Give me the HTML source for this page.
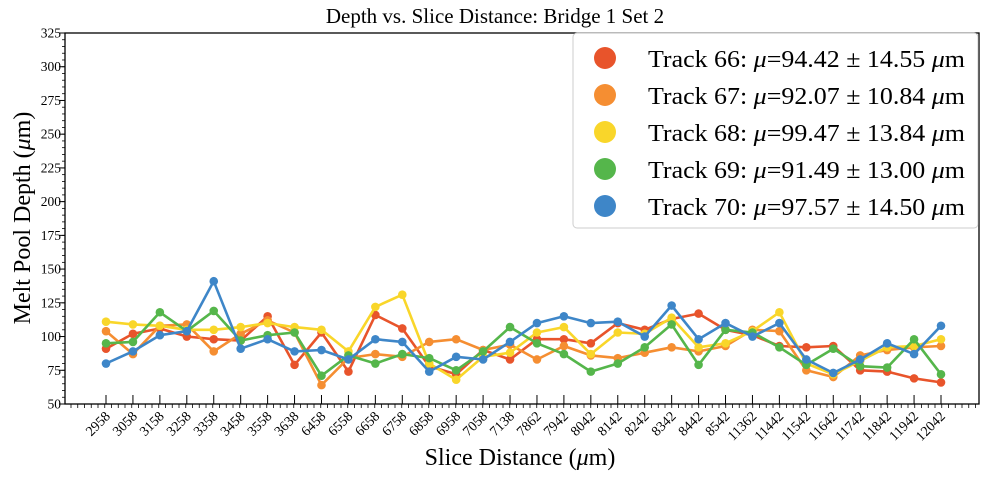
<!DOCTYPE html>
<html><head><meta charset="utf-8">
<style>
body{margin:0;background:#fff;}
svg{display:block;font-family:"Liberation Serif",serif;}
</style></head>
<body>
<svg id="chart" width="991" height="480" xmlns="http://www.w3.org/2000/svg">
<text x="495" y="23" text-anchor="middle" font-size="21">Depth vs. Slice Distance: Bridge 1 Set 2</text>
<text x="520" y="465" text-anchor="middle" font-size="24">Slice Distance (<tspan font-style="italic">μ</tspan>m)</text>
<text transform="translate(30,218) rotate(-90)" text-anchor="middle" font-size="24">Melt Pool Depth (<tspan font-style="italic">μ</tspan>m)</text>
<g id="axes"></g>
<g id="series"></g>
<g id="legend"></g>
</svg>
<script>
const categories=[2958,3058,3158,3258,3358,3458,3558,3638,6458,6558,6658,6758,6858,6958,7058,7138,7862,7942,8042,8142,8242,8342,8442,8542,11362,11442,11542,11642,11742,11842,11942,12042];
const track66=[91,102,106,100,98,97,115,79,103,74,116,106,78,72,90,83,98,98,95,110,105,113,117,105,101,93,92,93,75,74,69,66];
const track67=[104,87,108,109,89,102,112,103,64,84,87,85,96,98,90,94,83,93,86,84,88,92,89,93,105,104,75,70,86,90,92,93];
const track68=[111,109,108,105,105,107,110,107,105,89,122,131,80,68,85,88,103,107,87,103,102,114,92,95,104,118,80,72,82,92,93,98];
const track69=[95,96,118,104,119,97,101,103,71,86,80,87,84,75,89,107,95,87,74,80,92,109,79,105,103,92,79,91,78,77,98,72];
const track70=[80,89,101,104,141,91,98,89,90,83,98,96,74,85,83,96,110,115,110,111,100,123,98,110,100,110,83,73,83,95,87,108];
const seriesNames=["Track 66","Track 67","Track 68","Track 69","Track 70"];
const seriesMeans=["94.42","92.07","99.47","91.49","97.57"];
const seriesStds=["14.55","10.84","13.84","13.00","14.50"];
const yTicks=[50,75,100,125,150,175,200,225,250,275,300,325];

const NS="http://www.w3.org/2000/svg";
const L=65,R=979,T=33,B=404,yMin=50,yMax=325;
const colors=["#e8542b","#f58e32","#f9d62a","#55b64b","#3e86c8"];
const allSeries=[track66,track67,track68,track69,track70];
function xs(i){return 106+i*(941-106)/(categories.length-1);}
function ys(v){return B-(v-yMin)/(yMax-yMin)*(B-T);}
function mk(tag,attrs,parent){const e=document.createElementNS(NS,tag);for(const k in attrs)e.setAttribute(k,attrs[k]);parent.appendChild(e);return e;}
const axes=document.getElementById('axes');
const frame=mk('rect',{x:L,y:T,width:R-L,height:B-T,fill:'none',stroke:'#000','stroke-width':1.3},axes);


yTicks.forEach(v=>{
  const y=ys(v);
  mk('line',{x1:L-6,x2:L,y1:y,y2:y,stroke:'#000','stroke-width':1},axes);
  const t=mk('text',{x:L-4,y:y+4.5,'text-anchor':'end','font-size':13.5},axes);
  t.textContent=v;
  
  
});
for(let v=yMin;v<=yMax;v+=5){const y=ys(v);mk('line',{x1:L-3,x2:L,y1:y,y2:y,stroke:'#000','stroke-width':0.8},axes);}
for(let x=L+6;x<R;x+=6.75){mk('line',{x1:x,x2:x,y1:B,y2:B+4,stroke:'#000','stroke-width':0.8},axes);}
categories.forEach((c,i)=>{
  const x=xs(i);
  mk('line',{x1:x,x2:x,y1:B-9,y2:B,stroke:'#000','stroke-width':1},axes);
  const t=mk('text',{transform:`translate(${x+5},${B+13}) rotate(-45)`,'text-anchor':'end','font-size':14},axes);
  t.textContent=c;
  
  
});
const sg=document.getElementById('series');
allSeries.forEach((data,s)=>{
  const g=mk('g',{},sg);
  
  
  const pts=data.map((v,i)=>xs(i).toFixed(1)+','+ys(v).toFixed(1)).join(' ');
  const pl=mk('polyline',{points:pts,fill:'none',stroke:colors[s],'stroke-width':2.6,'stroke-linejoin':'round'},g);
  
  
  data.forEach((v,i)=>{
    const c=mk('circle',{cx:xs(i),cy:ys(v),r:4.3,fill:colors[s]},g);
    
    
  });
});
const lg=document.getElementById('legend');
const box=mk('rect',{x:573,y:33,width:405,height:195,rx:4,fill:'#fff',stroke:'#ccc','stroke-width':1,opacity:0.95},lg);


seriesNames.forEach((n,s)=>{
  const y=58+s*37;
  const g=mk('g',{},lg);
  
  
  mk('circle',{cx:605,cy:y,r:11,fill:colors[s]},g);
  const t=mk('text',{x:648,y:y+9,'font-size':24.5,textLength:317,lengthAdjust:'spacingAndGlyphs'},g);
  t.innerHTML=`${n}: <tspan font-style="italic">μ</tspan>=${seriesMeans[s]} ± ${seriesStds[s]} <tspan font-style="italic">μ</tspan>m`;
});
</script>
</body></html>
